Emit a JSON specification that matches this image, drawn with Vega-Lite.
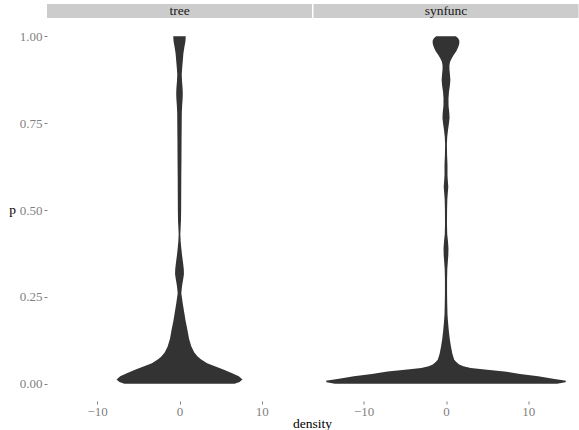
{
  "$schema": "https://vega.github.io/schema/vega-lite/v6.json",
  "padding": {"left": 8, "top": 4, "right": 0, "bottom": 0},
  "background": "white",
  "config": {"view": {"stroke": null}, "font": "Liberation Serif"},
  "datasets": {
    "violin": [
      {"panel":"tree","p":0,"lo":-6.7,"hi":6.7},
      {"panel":"tree","p":0.005,"lo":-7.3,"hi":7.3},
      {"panel":"tree","p":0.012,"lo":-7.65,"hi":7.65},
      {"panel":"tree","p":0.021,"lo":-7.2,"hi":7.2},
      {"panel":"tree","p":0.03,"lo":-6.4,"hi":6.4},
      {"panel":"tree","p":0.04,"lo":-5.4,"hi":5.4},
      {"panel":"tree","p":0.05,"lo":-4.3,"hi":4.3},
      {"panel":"tree","p":0.059,"lo":-3.35,"hi":3.35},
      {"panel":"tree","p":0.07,"lo":-2.6,"hi":2.6},
      {"panel":"tree","p":0.078,"lo":-2.2,"hi":2.2},
      {"panel":"tree","p":0.09,"lo":-1.8,"hi":1.8},
      {"panel":"tree","p":0.107,"lo":-1.44,"hi":1.44},
      {"panel":"tree","p":0.13,"lo":-1.15,"hi":1.15},
      {"panel":"tree","p":0.155,"lo":-0.96,"hi":0.96},
      {"panel":"tree","p":0.18,"lo":-0.75,"hi":0.75},
      {"panel":"tree","p":0.203,"lo":-0.59,"hi":0.59},
      {"panel":"tree","p":0.23,"lo":-0.4,"hi":0.4},
      {"panel":"tree","p":0.26,"lo":-0.22,"hi":0.22},
      {"panel":"tree","p":0.28,"lo":-0.3,"hi":0.3},
      {"panel":"tree","p":0.3,"lo":-0.44,"hi":0.44},
      {"panel":"tree","p":0.315,"lo":-0.54,"hi":0.54},
      {"panel":"tree","p":0.33,"lo":-0.52,"hi":0.52},
      {"panel":"tree","p":0.35,"lo":-0.42,"hi":0.42},
      {"panel":"tree","p":0.37,"lo":-0.31,"hi":0.31},
      {"panel":"tree","p":0.39,"lo":-0.22,"hi":0.22},
      {"panel":"tree","p":0.41,"lo":-0.14,"hi":0.14},
      {"panel":"tree","p":0.43,"lo":-0.1,"hi":0.1},
      {"panel":"tree","p":0.45,"lo":-0.14,"hi":0.14},
      {"panel":"tree","p":0.47,"lo":-0.18,"hi":0.18},
      {"panel":"tree","p":0.5,"lo":-0.2,"hi":0.2},
      {"panel":"tree","p":0.55,"lo":-0.21,"hi":0.21},
      {"panel":"tree","p":0.6,"lo":-0.22,"hi":0.22},
      {"panel":"tree","p":0.65,"lo":-0.24,"hi":0.24},
      {"panel":"tree","p":0.7,"lo":-0.25,"hi":0.25},
      {"panel":"tree","p":0.75,"lo":-0.27,"hi":0.27},
      {"panel":"tree","p":0.78,"lo":-0.28,"hi":0.28},
      {"panel":"tree","p":0.8,"lo":-0.32,"hi":0.32},
      {"panel":"tree","p":0.82,"lo":-0.38,"hi":0.38},
      {"panel":"tree","p":0.835,"lo":-0.4,"hi":0.4},
      {"panel":"tree","p":0.85,"lo":-0.38,"hi":0.38},
      {"panel":"tree","p":0.87,"lo":-0.31,"hi":0.31},
      {"panel":"tree","p":0.89,"lo":-0.27,"hi":0.27},
      {"panel":"tree","p":0.91,"lo":-0.33,"hi":0.33},
      {"panel":"tree","p":0.93,"lo":-0.4,"hi":0.4},
      {"panel":"tree","p":0.95,"lo":-0.47,"hi":0.47},
      {"panel":"tree","p":0.97,"lo":-0.6,"hi":0.6},
      {"panel":"tree","p":0.985,"lo":-0.72,"hi":0.72},
      {"panel":"tree","p":1,"lo":-0.76,"hi":0.76},
      {"panel":"synfunc","p":0,"lo":-13.5,"hi":13.5},
      {"panel":"synfunc","p":0.004,"lo":-14.5,"hi":14.5},
      {"panel":"synfunc","p":0.008,"lo":-14.6,"hi":14.6},
      {"panel":"synfunc","p":0.014,"lo":-13.0,"hi":13.0},
      {"panel":"synfunc","p":0.021,"lo":-11.2,"hi":11.2},
      {"panel":"synfunc","p":0.028,"lo":-9.0,"hi":9.0},
      {"panel":"synfunc","p":0.035,"lo":-7.1,"hi":7.1},
      {"panel":"synfunc","p":0.04,"lo":-5.0,"hi":5.0},
      {"panel":"synfunc","p":0.045,"lo":-3.0,"hi":3.0},
      {"panel":"synfunc","p":0.05,"lo":-2.1,"hi":2.1},
      {"panel":"synfunc","p":0.055,"lo":-1.6,"hi":1.6},
      {"panel":"synfunc","p":0.062,"lo":-1.25,"hi":1.25},
      {"panel":"synfunc","p":0.069,"lo":-1.0,"hi":1.0},
      {"panel":"synfunc","p":0.085,"lo":-0.78,"hi":0.78},
      {"panel":"synfunc","p":0.107,"lo":-0.6,"hi":0.6},
      {"panel":"synfunc","p":0.13,"lo":-0.45,"hi":0.45},
      {"panel":"synfunc","p":0.155,"lo":-0.33,"hi":0.33},
      {"panel":"synfunc","p":0.18,"lo":-0.24,"hi":0.24},
      {"panel":"synfunc","p":0.2,"lo":-0.18,"hi":0.18},
      {"panel":"synfunc","p":0.23,"lo":-0.15,"hi":0.15},
      {"panel":"synfunc","p":0.26,"lo":-0.13,"hi":0.13},
      {"panel":"synfunc","p":0.3,"lo":-0.13,"hi":0.13},
      {"panel":"synfunc","p":0.33,"lo":-0.16,"hi":0.16},
      {"panel":"synfunc","p":0.35,"lo":-0.22,"hi":0.22},
      {"panel":"synfunc","p":0.37,"lo":-0.28,"hi":0.28},
      {"panel":"synfunc","p":0.39,"lo":-0.3,"hi":0.3},
      {"panel":"synfunc","p":0.41,"lo":-0.24,"hi":0.24},
      {"panel":"synfunc","p":0.43,"lo":-0.15,"hi":0.15},
      {"panel":"synfunc","p":0.46,"lo":-0.12,"hi":0.12},
      {"panel":"synfunc","p":0.5,"lo":-0.13,"hi":0.13},
      {"panel":"synfunc","p":0.53,"lo":-0.16,"hi":0.16},
      {"panel":"synfunc","p":0.55,"lo":-0.22,"hi":0.22},
      {"panel":"synfunc","p":0.567,"lo":-0.28,"hi":0.28},
      {"panel":"synfunc","p":0.585,"lo":-0.22,"hi":0.22},
      {"panel":"synfunc","p":0.6,"lo":-0.18,"hi":0.18},
      {"panel":"synfunc","p":0.63,"lo":-0.18,"hi":0.18},
      {"panel":"synfunc","p":0.66,"lo":-0.13,"hi":0.13},
      {"panel":"synfunc","p":0.69,"lo":-0.11,"hi":0.11},
      {"panel":"synfunc","p":0.71,"lo":-0.15,"hi":0.15},
      {"panel":"synfunc","p":0.73,"lo":-0.24,"hi":0.24},
      {"panel":"synfunc","p":0.75,"lo":-0.36,"hi":0.36},
      {"panel":"synfunc","p":0.765,"lo":-0.43,"hi":0.43},
      {"panel":"synfunc","p":0.78,"lo":-0.4,"hi":0.4},
      {"panel":"synfunc","p":0.8,"lo":-0.31,"hi":0.31},
      {"panel":"synfunc","p":0.82,"lo":-0.3,"hi":0.3},
      {"panel":"synfunc","p":0.84,"lo":-0.36,"hi":0.36},
      {"panel":"synfunc","p":0.86,"lo":-0.48,"hi":0.48},
      {"panel":"synfunc","p":0.875,"lo":-0.53,"hi":0.53},
      {"panel":"synfunc","p":0.89,"lo":-0.48,"hi":0.48},
      {"panel":"synfunc","p":0.905,"lo":-0.42,"hi":0.42},
      {"panel":"synfunc","p":0.917,"lo":-0.42,"hi":0.42},
      {"panel":"synfunc","p":0.927,"lo":-0.5,"hi":0.5},
      {"panel":"synfunc","p":0.937,"lo":-0.7,"hi":0.7},
      {"panel":"synfunc","p":0.947,"lo":-0.95,"hi":0.95},
      {"panel":"synfunc","p":0.957,"lo":-1.25,"hi":1.25},
      {"panel":"synfunc","p":0.967,"lo":-1.45,"hi":1.45},
      {"panel":"synfunc","p":0.977,"lo":-1.6,"hi":1.6},
      {"panel":"synfunc","p":0.987,"lo":-1.63,"hi":1.63},
      {"panel":"synfunc","p":0.994,"lo":-1.5,"hi":1.5},
      {"panel":"synfunc","p":1,"lo":-1.2,"hi":1.2}
    ]
  },
  "columns": 2,
  "spacing": {"column": 1.5, "row": 1},
  "bounds": "flush",
  "concat": [
    {
      "width": 265, "height": 14,
      "data": {"values": [{"label": "tree"}]},
      "view": {"fill": "#cccccc", "stroke": null},
      "mark": {"type": "text", "font": "Liberation Serif", "fontSize": 13.5, "color": "#1a1a1a", "baseline": "middle"},
      "encoding": {"text": {"field": "label"}}
    },
    {
      "width": 265, "height": 14,
      "data": {"values": [{"label": "synfunc"}]},
      "view": {"fill": "#cccccc", "stroke": null},
      "mark": {"type": "text", "font": "Liberation Serif", "fontSize": 13.5, "color": "#1a1a1a", "baseline": "middle"},
      "encoding": {"text": {"field": "label"}}
    },
    {
      "width": 265, "height": 382,
      "data": {"name": "violin"},
      "transform": [{"filter": "datum.panel === 'tree'"}],
      "mark": {"type": "area", "orient": "horizontal", "color": "#333333"},
      "encoding": {
        "y": {"field": "p", "type": "quantitative",
          "scale": {"domain": [-0.05, 1.05], "nice": false, "zero": false},
          "axis": {"values": [0, 0.25, 0.5, 0.75, 1], "format": ".2f", "grid": false, "domain": false,
            "tickSize": 3, "tickColor": "#7f7f7f", "labelColor": "#7f7f7f", "labelFont": "Liberation Serif",
            "labelFontSize": 13, "labelPadding": 2, "title": "p", "titleAngle": 0, "titleFont": "Liberation Serif",
            "titleFontSize": 13.5, "titleFontWeight": "normal", "titleColor": "#000000", "titleX": -35, "titleY": 194,
            "titleAlign": "center", "titleBaseline": "alphabetic"}},
        "x": {"field": "lo", "type": "quantitative",
          "scale": {"domain": [-16.1, 16.1], "nice": false, "zero": false},
          "axis": {"values": [-10, 0, 10], "grid": false, "domain": false, "tickSize": 3, "tickColor": "#7f7f7f",
            "labelColor": "#7f7f7f", "labelFont": "Liberation Serif", "labelFontSize": 13, "labelPadding": 1,
            "title": "density", "titleFont": "Liberation Serif", "titleFontSize": 13.5, "titleFontWeight": "normal",
            "titleColor": "#000000", "titleX": 265, "titleY": 26.5, "titleAlign": "center", "titleBaseline": "alphabetic"}},
        "x2": {"field": "hi"}
      }
    },
    {
      "width": 265, "height": 382,
      "data": {"name": "violin"},
      "transform": [{"filter": "datum.panel === 'synfunc'"}],
      "mark": {"type": "area", "orient": "horizontal", "color": "#333333"},
      "encoding": {
        "y": {"field": "p", "type": "quantitative",
          "scale": {"domain": [-0.05, 1.05], "nice": false, "zero": false},
          "axis": null},
        "x": {"field": "lo", "type": "quantitative",
          "scale": {"domain": [-16.1, 16.1], "nice": false, "zero": false},
          "axis": {"values": [-10, 0, 10], "grid": false, "domain": false, "tickSize": 3, "tickColor": "#7f7f7f",
            "labelColor": "#7f7f7f", "labelFont": "Liberation Serif", "labelFontSize": 13, "labelPadding": 1,
            "title": null}},
        "x2": {"field": "hi"}
      }
    }
  ]
}
